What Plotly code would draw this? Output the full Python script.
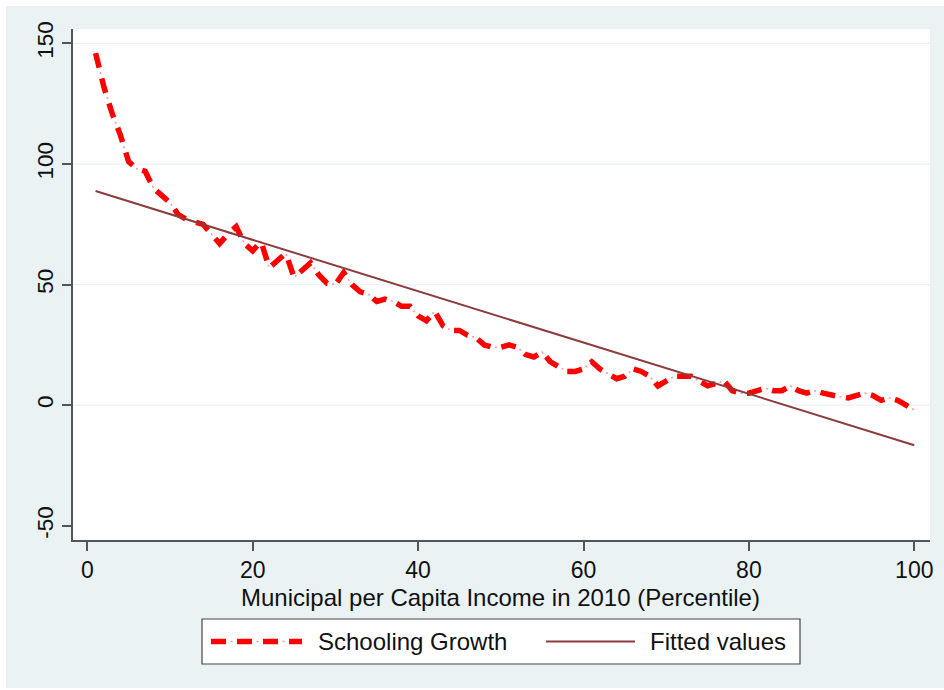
import plotly.graph_objects as go

# Municipal per-capita income percentile (x) and schooling growth (y)
percentile = list(range(1, 101))
schooling_growth = [
    146, 132, 121, 112, 101, 98, 97, 90, 87, 84,
    79, 77, 76, 75, 71, 67, 71, 74, 67, 64,
    68, 57, 60, 63, 53, 56, 59, 54, 50.5, 50,
    55, 50, 47, 46, 43, 44, 43, 41, 41, 37,
    35, 39, 33, 31, 31, 29, 28, 25, 24, 24,
    25, 24, 21, 20, 22, 18, 16, 14, 14, 15,
    18, 15, 13, 11, 12, 15, 14, 12, 8, 10,
    12, 12, 12, 10, 8, 9, 10, 6, 5, 5,
    6, 7, 6, 6, 8, 6, 5, 6, 5, 4,
    3.5, 3, 4, 5, 4, 2, 3, 2, 0, -2,
]

# Linear fit, evaluated at the ends of the percentile range
fit_x = [1, 100]
fit_y = [88.8, -16.6]

x_ticks = [0, 20, 40, 60, 80, 100]
y_ticks = [-50, 0, 50, 100, 150]
grid_values = [0, 50, 100, 150]

x_title = "Municipal per Capita Income in 2010 (Percentile)"
legend_labels = ["Schooling Growth", "Fitted values"]

# Style
BG = "#EAF2F3"
RED = "#FF0000"
DOT_RED = "#FF9A9A"
FIT = "#8E3B3B"
AXIS = "#555555"
TEXT = "#111111"
FONT = "Liberation Sans, Arial, sans-serif"
DASH_MAIN = "15px,11px"
DASH_DOT = "0px,19.5px,2px,4.5px"

W, H = 944, 690
L, R, T, B = 73, 930, 29, 540  # plot area in pixels


def px(xp):
    return (xp - L) / (R - L)


def py(yp):
    return (B - yp) / (B - T)


fig = go.Figure()

# thin light ticks that sit between the heavy dashes
fig.add_trace(go.Scatter(
    x=percentile, y=schooling_growth, mode="lines",
    line=dict(color=DOT_RED, width=1.6, dash=DASH_DOT),
    hoverinfo="skip", showlegend=False,
))
fig.add_trace(go.Scatter(
    x=percentile, y=schooling_growth, mode="lines",
    line=dict(color=RED, width=5.5, dash=DASH_MAIN),
    name=legend_labels[0], showlegend=False,
))
fig.add_trace(go.Scatter(
    x=fit_x, y=fit_y, mode="lines",
    line=dict(color=FIT, width=2),
    name=legend_labels[1], showlegend=False,
))

shapes = []
# horizontal grid lines
for g in grid_values:
    shapes.append(dict(
        type="line", xref="paper", yref="y", x0=0, x1=1, y0=g, y1=g,
        line=dict(color=BG, width=1.2), layer="below",
    ))

# white frame round the graph region
shapes += [
    dict(type="rect", xref="paper", yref="paper", x0=px(0), x1=px(W),
         y0=py(0), y1=py(6), fillcolor="white", line=dict(width=0)),
    dict(type="rect", xref="paper", yref="paper", x0=px(0), x1=px(6),
         y0=py(0), y1=py(H), fillcolor="white", line=dict(width=0)),
    dict(type="rect", xref="paper", yref="paper", x0=px(0), x1=px(W),
         y0=py(688), y1=py(H), fillcolor="white", line=dict(width=0)),
]

# legend box
leg_top, leg_bot = 619, 664
leg_mid = (leg_top + leg_bot) / 2
shapes.append(dict(
    type="rect", xref="paper", yref="paper",
    x0=px(202), x1=px(800), y0=py(leg_bot), y1=py(leg_top),
    fillcolor="white", line=dict(color="#444444", width=1.2),
))
shapes.append(dict(
    type="line", xref="paper", yref="paper",
    x0=px(211), x1=px(302), y0=py(leg_mid), y1=py(leg_mid),
    line=dict(color=DOT_RED, width=1.6, dash=DASH_DOT),
))
shapes.append(dict(
    type="line", xref="paper", yref="paper",
    x0=px(211), x1=px(302), y0=py(leg_mid), y1=py(leg_mid),
    line=dict(color=RED, width=5.5, dash=DASH_MAIN),
))
shapes.append(dict(
    type="line", xref="paper", yref="paper",
    x0=px(546), x1=px(635), y0=py(leg_mid), y1=py(leg_mid),
    line=dict(color=FIT, width=2),
))

annotations = [
    dict(text=x_title, xref="paper", yref="paper", x=px(500.5), y=py(598),
         xanchor="center", yanchor="middle", showarrow=False,
         font=dict(family=FONT, size=24, color=TEXT)),
    dict(text=legend_labels[0], xref="paper", yref="paper", x=px(316), y=py(leg_mid),
         xanchor="left", yanchor="middle", showarrow=False,
         font=dict(family=FONT, size=24, color=TEXT)),
    dict(text=legend_labels[1], xref="paper", yref="paper", x=px(648), y=py(leg_mid),
         xanchor="left", yanchor="middle", showarrow=False,
         font=dict(family=FONT, size=24, color=TEXT)),
]

fig.update_layout(
    width=W, height=H,
    margin=dict(l=L, r=W - R, t=T, b=H - B, pad=0),
    paper_bgcolor=BG, plot_bgcolor="white",
    showlegend=False,
    font=dict(family=FONT, size=23, color=TEXT),
    shapes=shapes, annotations=annotations,
    xaxis=dict(
        range=[-1.73, 101.9], tickvals=x_ticks, ticktext=[str(v) for v in x_ticks],
        showgrid=False, zeroline=False, showline=True, linecolor=AXIS, linewidth=1.6,
        ticks="outside", ticklen=9, tickwidth=1.6, tickcolor=AXIS,
        tickfont=dict(family=FONT, size=23, color=TEXT),
    ),
    yaxis=dict(
        range=[-55.9, 156.0], tickvals=y_ticks, ticktext=[str(v) for v in y_ticks],
        showgrid=False, zeroline=False, showline=True, linecolor=AXIS, linewidth=1.6,
        ticks="outside", ticklen=9, tickwidth=1.6, tickcolor=AXIS, tickangle=-90,
        tickfont=dict(family=FONT, size=22.5, color=TEXT),
    ),
)

fig.write_html("out.html")
